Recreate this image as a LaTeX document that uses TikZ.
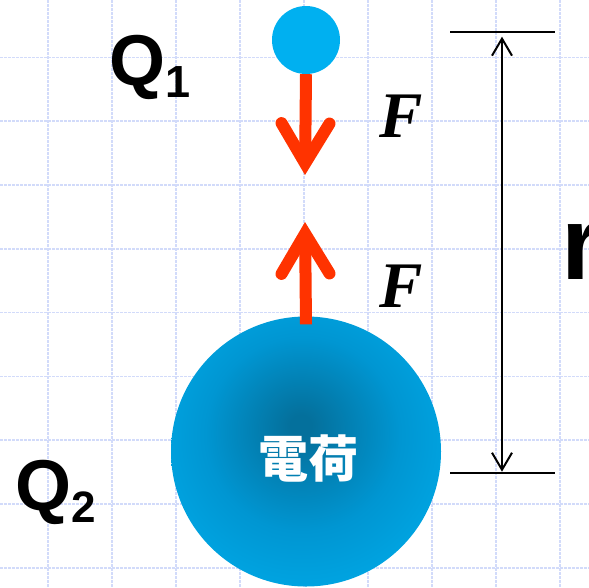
\documentclass[tikz,border=0pt]{standalone}
\usepackage{fontspec}
\usepackage{tikz}
\usetikzlibrary{arrows.meta, positioning}
\newfontfamily\sansbold{Liberation Sans}
\newfontfamily\serifbold{Liberation Serif}
\newfontfamily\cjk{Noto Sans CJK JP}
\definecolor{gridblue}{RGB}{210,219,250}
\definecolor{forcered}{RGB}{255,51,0}
\definecolor{chargelight}{RGB}{0,176,240}
\definecolor{chargedark}{RGB}{4,112,156}
\definecolor{chargemid}{RGB}{0,150,210}
\definecolor{chargeedge}{RGB}{0,170,232}
\pgfdeclareradialshading{chargeball}{\pgfpoint{-1bp}{5bp}}{color(0bp)=(chargedark); color(2bp)=(chargedark); color(18bp)=(chargemid); color(32bp)=(chargeedge); color(50bp)=(chargeedge)}

\begin{document}
\begin{tikzpicture}[x=1pt, y=-1pt,
      gridline/.style={gridblue, line width=1.6pt, dash pattern=on 2.5pt off 1.5pt},
      small/.style={circle, fill=chargelight, minimum size=68pt, inner sep=0},
      big/.style={circle, shading=chargeball, minimum size=270pt, inner sep=0},
      chargetext/.style={inner sep=0, text=white, font=\cjk\bfseries\fontsize{50}{50}\selectfont},
      force/.style={forcered, line width=12pt,
                    -{Straight Barb[length=40pt, width=48pt, line cap=round, line join=miter]}},
      dimline/.style={black, line width=2pt},
      dimarrow/.style={black, line width=2pt,
                    {Straight Barb[length=17pt, width=20pt]}-{Straight Barb[length=17pt, width=20pt]}},
      qlab/.style={anchor=base west, inner sep=0, font=\sansbold\bfseries\fontsize{72}{72}\selectfont},
      flab/.style={anchor=base, inner sep=0, font=\serifbold\bfseries\itshape\fontsize{65}{65}\selectfont}
    ]
      \useasboundingbox (0,0) rectangle (589,587);
      \clip (0,0) rectangle (589,587);
      \foreach \i in {0,...,8} \draw[gridline] (47.7+64*\i,0) -- (47.7+64*\i,587);
      \foreach \j in {-1,...,8} \draw[gridline] (0,57.3+63.8*\j) -- (589,57.3+63.8*\j);

      \node[small] (q1) at (306,40) {};
      \node[big] (q2) at (306,451.5) {};
      \node[chargetext] (q2txt) at ([shift={(2pt,-7pt)}]q2.center) {電荷};
      \coordinate (tipdown) at (305,175);
      \coordinate (tipup) at (305,222);
      \draw[force] (q1.south) -- (tipdown);
      \draw[force] ([yshift=-8pt]q2.north) -- (tipup);

      \node[qlab] (q1lab) at (109,85) {Q\raisebox{-12pt}{\fontsize{45}{45}\selectfont 1}};
      \node[qlab] (q2lab) at (15,510) {Q\raisebox{-12pt}{\fontsize{44}{44}\selectfont 2}};
      \node[flab] (f1) at (401,137) {F};
      \node[flab] (f2) at (401,307) {F};

      \coordinate (dimtop) at (502,31.7);
      \coordinate (dimbot) at (502,473);
      \draw[dimline] ([xshift=-52pt]dimtop) -- ([xshift=53pt]dimtop);
      \draw[dimline] ([xshift=-52pt]dimbot) -- ([xshift=53pt]dimbot);
      \draw[dimarrow] ([yshift=-5pt]dimtop) -- ([yshift=1.3pt]dimbot);
      \node[anchor=base west, inner sep=0, font=\sansbold\bfseries\fontsize{104}{104}\selectfont] (rlab) at (561,279) {r};
    \end{tikzpicture}
\end{document}
